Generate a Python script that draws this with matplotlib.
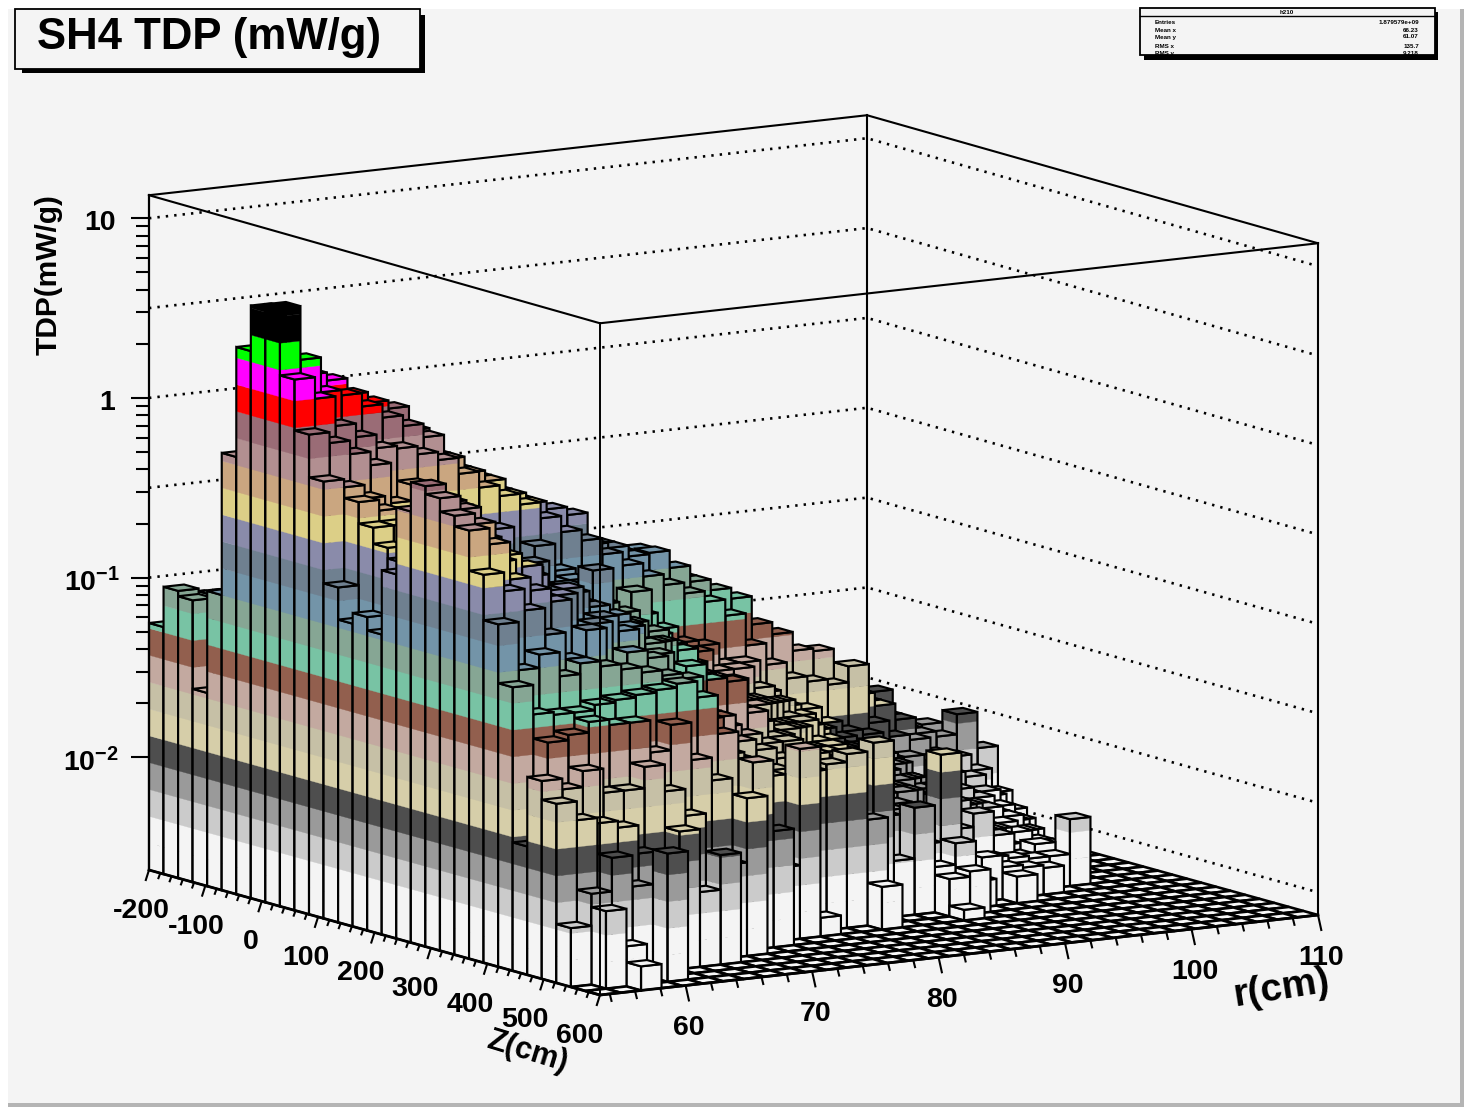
import numpy as np
import matplotlib
matplotlib.use("Agg")
import matplotlib.pyplot as plt
from matplotlib.collections import PolyCollection, LineCollection
from matplotlib.patches import Rectangle

plt.rcParams['font.family'] = ['Liberation Sans', 'DejaVu Sans']
plt.rcParams['mathtext.fontset'] = 'custom'
plt.rcParams['mathtext.bf'] = 'Liberation Sans:bold'
plt.rcParams['mathtext.rm'] = 'Liberation Sans:bold'

# ---- data: bar height of each r-bin (one list per r-bin, one value per Z-bin),
# read from the picture in units of the colour contour levels; trailing bins are empty
level_r00 = [9.2,10.7,10.5,7.2,11.0,16.3,20.4,22.1,22.3,19.8,17.9,16.3,12.5,11.3,11.7,11.2,13.6,16.1,17.2,16.9,16.4,16.0,14.5,12.8,10.6,4.8,7.4,6.7,2.2]
level_r01 = [9.5,10.4,10.6,10.8,10.8,15.5,19.9,20.2,20.3,19.0,17.5,16.0,15.6,14.8,14.2,13.8,14.5,15.8,16.5,16.4,16.0,15.4,13.8,11.0,9.5,8.6,7.0,6.0,3.4,2.9]
level_r02 = [9,10,10.5,10.5,11,14.5,18,19.5,19.0,17.9,17,15.5,15.2,14.8,14,13.6,14,15,15.5,15.2,14.5,14,13,11.5,9.4,8.8,7.6,5.8,4.66,1.5,0.9]
level_r03 = [9,10,10,10,10.5,14,17.6,19.2,18.8,17.4,16.5,14.0,14.6,13.0,13.6,12.0,13.5,14.2,13.6,14.5,13.0,13.5,12,10.6,9.4,9.2,6.7,5.55,3.5]
level_r04 = [8.5,9.5,10,10,10,13.5,17,18.6,18.3,16.9,15.0,14.6,13.0,13.6,12.2,13.0,11.8,13.6,12.8,14,12.5,13,11,11,9.6,9,6.7,4.5,2.25,4.8]
level_r05 = [8.5,9.5,9.5,9.5,10,13,16.5,18.2,17.8,16.8,15.6,13,13.6,12.2,13,11.4,12.6,12,13.4,12.4,13,11.6,12,10.8,9.7,9,7.5,4]
level_r06 = [8,9,9,9,9.5,12.5,16,17.9,17.4,16.5,14,14,12,13,11.6,12.2,11,12.6,11.8,13,11.4,12,10.4,10.6,9.8,7.8,6.5,5.15]
level_r07 = [8,9,9,9,9,12,15.5,17,16.9,16.2,14.6,12.4,13,11.4,12.2,10.8,12,11,12.6,11,12,10.4,11,10.4,9.9,8.75,5.5,2.8]
level_r08 = [7.5,8.5,8.5,8.5,8.5,11.5,15,16,16,15.6,13,13.2,11.4,12.2,10.8,11.8,10.6,12,12,10.4,11.4,9.6,10.7,10.2,10.05,7.35,1.2,4.1]
level_r09 = [7,8,8,8,8,11,14.5,15.4,15.4,15,13.6,11.8,12.4,10.8,11.6,10.2,11.4,10.4,11.6,11.3,9.8,10.6,9.4,10,9.45,6.5,3.5]
level_r10 = [7,8,8,8,8,10.5,14,15,15,14.6,12,12.4,10.8,11.6,10.2,11.2,9.8,11,10,10.6,9.6,9.6,8.4,8.4,8.0,4.5,5.9]
level_r11 = [7,7.5,7.5,7.5,7.5,10,13.6,14.4,14.4,14.2,12.8,10.8,11.6,10,12.5,9.8,10.8,9.2,10.4,9,9.0,8,7.6,7.0,6.6,7.0]
level_r12 = [6.5,7,7,7,7,9.5,13,14,14,13.6,11.8,11.6,10,11,9.6,10.6,9,10.2,8.6,9.6,8,8,6.6,6.4,3.0,4.35]
level_r13 = [6,7,7,7,7,9,12.6,13.6,13.7,13,10.4,11.2,9.6,10.6,9.2,10.2,8.8,9.8,8.4,9.0,7.4,7.0,6.3,6.0,2.75]
level_r14 = [6,6.5,6.5,6.5,6.5,8.5,12,13,13.4,12.6,10.4,9.8,9.6,9,9,8.6,8.6,8,8.4,8.85,7.0,6.6,6.0,5.6,7.1]
level_r15 = [5.5,6,6,6,6,8,11.5,12.2,12.2,12,9.8,10.9,9,9,8.4,8.4,8,8,7.4,7.6,6.6,6.2,4.7,6,0.7]
level_r16 = [5,5.5,5.5,5.5,5.5,7.5,11,12,12,11.5,9.8,9.2,9,8.4,8.2,7.8,7.6,7.2,7,6.6,6.6,5.8,4.36,6.2]
level_r17 = [5,5,5,5,5,7,10.6,11.6,11.6,11,9.2,8.4,8.2,7.6,7.6,7,7,6.4,6.4,6,5.6,5.6,5.5,6.5]
level_r18 = [4.5,5,5,5,5,7,10.4,11.6,11.65,10.6,8.6,8.4,7.6,7.6,7,7,6.4,6.4,5.8,5.8,5,4.2,3.0,3.96,1.6]
level_r19 = [4.5,4.5,4.5,4.5,4.5,6.5,10,10.8,11,10.2,8.4,7.6,7.4,6.8,6.8,6.2,6.2,5.6,5.4,5,4.4,4.4,6.6]
level_r20 = [4,4,4,4,4,6,9.6,10.4,10.4,9.8,7.6,7.6,6.6,6.6,6,6,5.4,5.4,4.8,4.6,4.2,3.6,2.1]
level_r21 = [4,4,4,4,4,5.5,9.2,9.8,10,9.2,7.6,6.8,6.4,6,6,5.4,5.4,4.8,4.6,4.2,3.6,3.15,4]
level_r22 = [3.5,3.5,3.5,3.5,3.5,5,8.8,9.4,9.6,8,6.4,6.2,5.6,5.6,5,5,4.4,4.4,3.8,3.6,3.4,2.4,1.7,1.4,0.4]
level_r23 = [3,3,3,3,3,4.5,8,8.4,8.55,7.2,5.8,5.6,5.2,5,4.8,4.4,4.4,3.8,3.8,3.2,2.8,5.66,2.5,1.6]
level_r24 = [3,3,3,3,3,4,7.4,7.8,8.1,6.6,5.6,5,4.6,4.6,4.2,4.2,3.6,3.6,3,3,2.2,1.2,1]
level_r25 = [2.5,2.5,2.5,2.5,2.5,3.5,7,7.2,7.4,6.4,5,4.6,4.4,4,3.8,3.6,3.2,2.8,2.8,2.4,1.4,1.65]
level_r26 = [2,2,2,2,2,3,6.6,7,7.3,6.2,4.6,4.2,3.8,3.8,3.4,3.2,2.6,2.6,2.2,2.9,1.4,1.2,1]
level_r27 = [2,2,2,2,2,3,6,6.4,6.5,6.8,4.4,3.8,3.6,3.2,3.2,2.8,2.8,2,2,2,1.3,1.1]
level_r28 = [1.5,1.5,1.5,1.5,1.5,2.5,5.5,5.8,5.5,4.6,3.4,2.9,2.8,3,2.4,2.4,1.8,1.8,1.4,1.15,1.2,1]
level_r29 = [1,1,1,1,1,2,5,5,5,4,3.4,2.6,2.6,2.2,2.2,1.6,1.6,1,1,1.5,1.2]
level_r30 = [0,0,1,1,1,2,4.4,4.4,4.4,3.8,3.2,2.4,2.4,2,2,1.6,1.4,1,1,1.2,2.5]
level_r31 = [0,0,0,0,1,4.9,3.8,3.8,3.8,3.2,2.6,2,2,1.6,1.6,1.2,1,1,1]
level_r32 = [0,0,0,0,0,2,3,3.9,3.6,3,2.4,2,1.6,1.2,1]
level_r33 = [0,0,0,0,0,1,2,3,4.35,2.4,1.6,1,1]
level_r34 = [0,0,0,0,0,0,1,2,3.0,1.5,1]

band_colors = ['#F4F4F4','#F4F4F4','#CBCBCB','#9A9A9A','#4E4E4E','#D6CEA9','#C6C0A6','#C3A9A0',
               '#925F4E','#78C3A4','#86A694','#7394A8','#6F8090','#8A8BAA','#DCCF87','#CAA680',
               '#B28F91','#9A6C76','#FF0000','#FF00FF','#00FF00','#000000','#000000','#000000']
z_ticks = [-200,-100,0,100,200,300,400,500,600]
r_ticks = [60,70,80,90,100,110]
stat_names = ['Entries','Mean x','Mean y','RMS x','RMS y']
stat_values = ['1.879579e+09','66.23','61.07','135.7','9.218']

rows = [level_r00,level_r01,level_r02,level_r03,level_r04,level_r05,level_r06,level_r07,level_r08,
        level_r09,level_r10,level_r11,level_r12,level_r13,level_r14,level_r15,level_r16,level_r17,
        level_r18,level_r19,level_r20,level_r21,level_r22,level_r23,level_r24,level_r25,level_r26,
        level_r27,level_r28,level_r29,level_r30,level_r31,level_r32,level_r33,level_r34]
NZ, NR = 31, 35
levels = np.zeros((NR, NZ))
for j, row in enumerate(rows):
    levels[j, :len(row)] = row

# ---- scales: orthographic ROOT lego projection
Z0, Z1 = -200.0, 600.0
R0, R1 = 53.23, 110.0
LOG0 = -2.627
LEVEL_STEP = 0.1494
LOG1 = 1.128
tdp = 10.0 ** (LOG0 + LEVEL_STEP * levels)
tdp[levels == 0] = 10.0 ** LOG0
z_edges = np.linspace(Z0, Z1, NZ + 1)
r_edges = np.linspace(R0, R1, NR + 1)

def proj(z, r, logv=LOG0):
    u = (z - Z0) / (Z1 - Z0)
    v = (r - R0) / (R1 - R0)
    return (149 + 451 * u + 718 * v,
            870 + 125 * u - 80 * v - 179.7 * (1 - 0.0045 * u) * (logv - LOG0))

fig = plt.figure(figsize=(14.64, 11.07), dpi=100, facecolor='white')
ax = fig.add_axes([0, 0, 1, 1])
ax.set_xlim(0, 1464)
ax.set_ylim(1107, 0)
ax.axis('off')

ax.add_patch(Rectangle((8, 9), 1452, 1094, fc='#F4F4F4', ec='none', zorder=0))
ax.add_patch(Rectangle((1460, 9), 4, 1098, fc='#B4B4B4', ec='none', zorder=0))
ax.add_patch(Rectangle((8, 1103), 1456, 4, fc='#B4B4B4', ec='none', zorder=0))

# dotted grid on the two back walls
for lg in [1, 0.5, 0, -0.5, -1, -1.5, -2, -2.5]:
    pts = [proj(Z0, R0, lg), proj(Z0, R1, lg), proj(Z1, R1, lg)]
    ax.plot(*zip(*pts), color='black', lw=1.9, ls=(0, (0.9, 2.3)), zorder=1)
ax.plot(*zip(proj(Z0, R1, LOG0), proj(Z0, R1, LOG1)), color='black', lw=1.5, zorder=1)
ax.plot(*zip(proj(Z1, R1, LOG0), proj(Z1, R1, LOG1)), color='black', lw=1.5, zorder=1)
ax.plot(*zip(proj(Z0, R0, LOG1), proj(Z0, R1, LOG1), proj(Z1, R1, LOG1)), color='black', lw=1.5, zorder=1)

# lego bars, painted from the far corner to the near corner
polys, fcs, ecs, lws = [], [], [], []
def add(poly, fc, ec, lw):
    polys.append(poly); fcs.append(fc); ecs.append(ec); lws.append(lw)

LINE = 1.55
FLOOR = 1.9
for j in range(NR - 1, -1, -1):
    for i in range(NZ):
        za, zb = z_edges[i], z_edges[i + 1]
        ra, rb = r_edges[j], r_edges[j + 1]
        L = levels[j, i]
        lg_top = np.log10(tdp[j, i])
        if L > 0:
            k = 0
            while k < L:
                lo = LOG0 + LEVEL_STEP * k
                hi = LOG0 + LEVEL_STEP * min(k + 1, L)
                c = band_colors[k]
                add([proj(za, ra, lo), proj(zb, ra, lo), proj(zb, ra, hi), proj(za, ra, hi)], c, c, 0.25)
                add([proj(zb, ra, lo), proj(zb, rb, lo), proj(zb, rb, hi), proj(zb, ra, hi)], c, c, 0.25)
                k += 1
            add([proj(za, ra), proj(zb, ra), proj(zb, ra, lg_top), proj(za, ra, lg_top)], (0, 0, 0, 0), 'black', LINE)
            add([proj(zb, ra), proj(zb, rb), proj(zb, rb, lg_top), proj(zb, ra, lg_top)], (0, 0, 0, 0), 'black', LINE)
            top_c = band_colors[min(int(np.floor(L)), len(band_colors) - 1)]
            add([proj(za, ra, lg_top), proj(zb, ra, lg_top), proj(zb, rb, lg_top), proj(za, rb, lg_top)], top_c, 'black', LINE)
        else:
            add([proj(za, ra), proj(zb, ra), proj(zb, rb), proj(za, rb)], '#F8F8F8', 'black', FLOOR)

ax.add_collection(PolyCollection(polys, facecolors=fcs, edgecolors=ecs, linewidths=lws,
                                 joinstyle='miter', zorder=2))

# box lines in front
ax.plot(*zip(proj(Z0, R0, LOG0), proj(Z0, R0, LOG1)), color='black', lw=1.6, zorder=3)
ax.plot(*zip(proj(Z1, R0, LOG0), proj(Z1, R0, LOG1)), color='black', lw=1.4, zorder=3)
ax.plot(*zip(proj(Z0, R0, LOG1), proj(Z1, R0, LOG1), proj(Z1, R1, LOG1)), color='black', lw=1.5, zorder=3)
ax.plot(*zip(proj(Z0, R0, LOG0), proj(Z1, R0, LOG0), proj(Z1, R1, LOG0)), color='black', lw=2.0, zorder=3)

# ticks
segs = []
for d in range(-2, 2):
    for m in range(1, 10):
        lg = d + np.log10(m)
        if lg < LOG0 or lg > LOG1:
            continue
        x, y = proj(Z0, R0, lg)
        segs.append([(x - (18 if m == 1 else 13), y), (x, y)])
for zv in range(-200, 601, 20):
    x, y = proj(zv, R0)
    major = zv % 100 == 0
    segs.append([(x, y), (x - (3.5 if major else 2.2), y + (11 if major else 6))])
for rv in range(54, 111, 2):
    x, y = proj(Z1, rv)
    major = rv % 10 == 0
    segs.append([(x, y), (x + (3.5 if major else 2), y + (16 if major else 8))])
ax.add_collection(LineCollection(segs, colors='black', linewidths=1.5, zorder=3))

# tick labels
TF = dict(fontweight='bold', fontsize=20.5, ha='center', va='center', color='black', zorder=5)
for zv in z_ticks:
    x, y = proj(zv, R0)
    ax.text(x - 8 - 12 * (zv + 200) / 800, y + 41, str(zv), **TF)
for rv in r_ticks:
    x, y = proj(Z1, rv)
    ax.text(x + 3, y + 43, str(rv), **TF)
for lg, lab, xc in [(1, '10', 100), (0, '1', 107), (-1, r'$\mathbf{10^{-1}}$', 92), (-2, r'$\mathbf{10^{-2}}$', 91)]:
    ax.text(xc, proj(Z0, R0, lg)[1] + 5, lab, **TF)

ax.text(49, 275, 'TDP(mW/g)', rotation=90, fontweight='bold', fontsize=21.5, ha='center', va='center', zorder=5)
ax.text(527, 1052, 'Z(cm)', rotation=-17, fontweight='bold', fontsize=22, ha='center', va='center', zorder=5)
ax.text(1281, 989, 'r(cm)', rotation=9, fontweight='bold', fontsize=28, ha='center', va='center', zorder=5)

# title box
ax.add_patch(Rectangle((22, 15), 403, 58, fc='black', ec='none', zorder=6))
ax.add_patch(Rectangle((15, 9), 405, 60, fc='#F4F4F4', ec='black', lw=1.3, zorder=7))
ax.text(209, 38, 'SH4 TDP (mW/g)', fontweight='bold', fontsize=31.5, ha='center', va='center', zorder=8)

# statistics box
ax.add_patch(Rectangle((1144, 12), 294, 48, fc='black', ec='none', zorder=6))
ax.add_patch(Rectangle((1140, 8), 295, 47, fc='#F4F4F4', ec='black', lw=1.3, zorder=7))
ax.plot([1140, 1435], [16, 16], color='black', lw=1.0, zorder=8)
ax.text(1287, 13, 'h210', fontsize=4.5, fontweight='bold', ha='center', va='center', zorder=8)
for name, val, yy in zip(stat_names, stat_values, [23, 30, 37, 46, 53.5]):
    ax.text(1155, yy, name, fontsize=4.5, fontweight='bold', ha='left', va='center', zorder=8, clip_on=True)
    ax.text(1419, yy, val, fontsize=4.5, fontweight='bold', ha='right', va='center', zorder=8, clip_on=True)

fig.savefig('out.png', dpi=100, facecolor='white')
